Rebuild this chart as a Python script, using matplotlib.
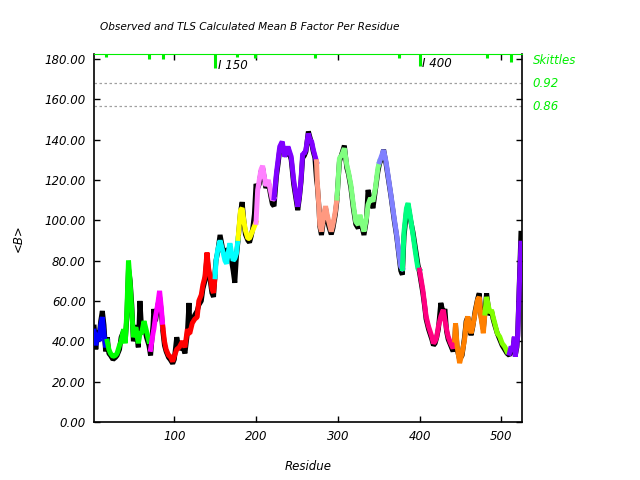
import numpy as np
from matplotlib import pyplot as plt
from matplotlib.transforms import blended_transform_factory

# residue, TLS calculated <B>, observed <B>
residue = [2, 4, 6, 8, 10, 12, 14, 16, 18, 20, 22, 25, 28, 30, 33, 35, 38, 40, 42, 44,
           46, 48, 50, 53, 56, 58, 60, 63, 66, 69, 71, 74, 75, 77, 80, 82, 84, 86, 88, 90,
           93, 95, 98, 100, 103, 106, 110, 113, 116, 118, 119, 122, 125, 128, 130, 133, 135, 137.5, 140, 142,
           144, 146, 148, 150, 151, 153, 156, 160, 162, 164, 166, 168, 170, 172, 174, 176, 178, 181, 183, 185,
           187, 190, 192, 194, 196, 198, 200, 202, 204, 206, 208, 210, 212, 215, 218, 220, 222, 225, 227, 229,
           232, 235, 237, 239, 241, 243, 246, 249, 251, 253, 255, 257, 259, 261, 264, 266, 268, 270, 272, 274,
           275, 277, 278, 280, 283, 285, 287, 289, 292, 294, 297, 299, 300, 302, 305, 308, 311, 313, 316, 319,
           322, 325, 327, 330, 332, 335, 337, 340, 343, 346, 349, 351, 354, 356, 359, 362, 365, 369, 372, 375,
           377, 379, 381, 384, 386, 389, 392, 395, 398, 400, 402, 404, 406, 408, 411, 415, 417, 419, 421, 423,
           426, 429, 431, 433, 435, 438, 441, 443, 444, 446, 449, 452, 455, 457, 459, 461, 463, 465, 468, 471,
           473, 475, 478, 480, 482, 484, 486, 488, 490, 492, 495, 498, 501, 504, 507, 510, 512, 514, 516, 517,
           519, 520, 522, 524]
tls_b = [45, 38, 44, 40, 48, 52, 44, 37, 40, 36, 34, 32.5, 33, 34, 38, 40, 46, 39, 55, 80,
         69, 55, 42, 47, 39, 44, 44, 50, 45, 40, 36, 44, 46, 52, 59, 65, 57, 47, 40, 36,
         33, 32.5, 30, 32.5, 36, 37, 40, 37, 46, 44, 44, 49, 51, 52, 60, 63, 68, 72, 84, 76,
         72, 66, 64, 72, 79.5, 85, 90, 83.5, 80, 78.5, 84, 88.6, 84, 80, 81, 83.5, 91, 105, 106, 100,
         95, 91, 91, 93, 95, 97, 99, 115, 120, 125, 127, 122, 117, 120, 114, 110, 111, 123.5, 130, 136.5,
         139, 131.5, 134, 136.5, 134, 131.5, 120, 111.7, 106.7, 112, 120, 133, 133, 135, 143, 140, 139, 135, 132, 129,
         118.3, 106, 97.7, 94.4, 102.7, 107, 102.7, 99.3, 94.4, 97.7, 104.4, 111, 117.5, 130.7, 132.4, 135.7, 127.4, 124, 117.5, 107.7,
         99.3, 97.7, 102.7, 97.7, 94.4, 101, 107.7, 111, 109.3, 116, 125.8, 129, 132.4, 134.8, 129, 120.8, 112.6, 101, 92.7, 82.8,
         77, 76, 94.4, 106, 108.5, 101, 92.7, 84, 76, 75.3, 70.4, 65.5, 59, 52.3, 47.3, 42.3, 39, 40, 42.3, 47.3,
         52.3, 55.6, 50.6, 46, 42.3, 39, 36.5, 40.7, 49, 37.4, 29.2, 34.1, 40.7, 49, 52.3, 48, 44, 47.3, 54, 60.5,
         62, 52.3, 44, 54, 62, 58, 54, 55.6, 52, 49, 44, 42.3, 39, 37.4, 34.9, 34.1, 37.4, 35.8, 42.3, 32.4,
         38, 42.3, 67, 88.6]
obs_b = [47, 36, 45, 42, 50, 55, 48, 35, 42, 34, 33, 31, 32, 33, 36, 42, 45, 40, 52, 76,
         70, 58, 40, 48, 37, 60, 46, 48, 42, 38, 33, 48, 56, 50, 58, 62, 55, 45, 38, 35,
         32, 31, 29, 31, 42, 36, 38, 34, 44, 59, 48, 50, 53, 55, 58, 60, 66, 70, 82, 74,
         70, 64, 62, 75, 80, 84, 92.7, 84, 86, 82, 85, 87, 80, 75, 69, 82, 90, 104, 109, 100,
         93, 90, 89, 92, 96, 103, 118, 116, 118, 124, 126, 121, 116, 119, 112, 108, 107, 122, 128, 135,
         137, 133, 132, 135, 133, 130, 118, 110, 105, 111, 119, 131, 132, 134, 144, 141, 138, 134, 131, 120,
         117, 106, 97, 92.7, 101, 106, 101, 97, 93, 96, 103, 110, 117, 129, 133, 137, 126, 123, 116, 106,
         98, 96, 101, 96, 92.7, 100, 115, 110, 106, 115, 124, 128, 131, 135, 128, 120, 112, 100, 92, 82,
         75, 73, 92, 104, 107, 100, 94, 86, 78, 74, 69, 64, 58, 51, 46, 41, 38, 39, 42, 46,
         59, 54, 56, 45, 41, 38, 35, 39, 48, 36, 31, 33, 42, 50, 52, 47, 43, 47, 55, 61,
         63.8, 53, 46, 55, 63.8, 57, 53, 55, 51, 48, 44, 41, 38, 36, 34, 33, 36, 35, 42, 33,
         37, 43, 68, 93.5]

# TLS groups: first residue, last residue, colour
seg_start = [2, 18, 70, 86, 150, 178, 200, 222, 274, 299, 351, 379, 400, 443, 480, 509]
seg_end = [18, 70, 86, 150, 178, 200, 222, 274, 299, 351, 379, 400, 443, 480, 509, 525]
seg_color = ['#0000ff', '#00ff00', '#ff00ff', '#ff0000', '#00ffff', '#ffff00', '#ff80ff', '#8000ff',
             '#ff9980', '#80ff80', '#8080ff', '#00ff80', '#ff0080', '#ff8000', '#80ff00', '#8000ff']

# skittles marks along the top
skittle_res = [16, 69, 86, 150, 177, 199, 272, 375, 400, 482, 512]
skittle_len = [1.5, 2.5, 2.5, 7, 1.5, 2, 2, 2, 6, 2, 4]
cutoff_y = [168, 156.6]
cutoff_lbl = ['0.92', '0.86']

plt.rcParams['font.family'] = 'DejaVu Sans'
fig = plt.figure(figsize=(6.4, 4.8), dpi=100)
ax = fig.add_axes([94 / 640, 58 / 480, 428 / 640, 368 / 480])

res = np.array(residue)
tls = np.array(tls_b)
ax.plot(res, obs_b, color='black', lw=3.6, solid_joinstyle='bevel', zorder=2)
for s, e, c in zip(seg_start, seg_end, seg_color):
    m = (res >= s) & (res <= e)
    ax.plot(res[m], tls[m], color=c, lw=3.6, solid_joinstyle='bevel', zorder=3)

for yv in cutoff_y:
    ax.axhline(yv, color='#a0a0a0', lw=0.9, ls=(0, (2, 2)), zorder=1)

ymax = 182.4
for r, l in zip(skittle_res, skittle_len):
    ax.plot([r, r], [ymax, ymax - l], color='#00ee00', lw=2.2, zorder=4, solid_capstyle='butt')

ax.set_xlim(1.8, 525.3)
ax.set_ylim(0, ymax)
ax.set_xticks([100, 200, 300, 400, 500])
ax.set_yticks(np.arange(0, 181, 20))
ax.set_yticklabels(['%.2f' % v for v in np.arange(0, 181, 20)])
ax.tick_params(direction='in', top=True, right=True, length=4, width=1, labelsize=8.5, pad=6)
for lab in ax.get_xticklabels() + ax.get_yticklabels():
    lab.set_style('italic')
ax.spines['top'].set_color('#00ee00')
for sp in ['left', 'right', 'bottom']:
    ax.spines[sp].set_linewidth(1.2)

tr = blended_transform_factory(ax.transAxes, ax.transData)
ax.text(1.025, 179, 'Skittles', color='#00ee00', style='italic', fontsize=8.5, va='center', transform=tr)
for yv, t in zip(cutoff_y, cutoff_lbl):
    ax.text(1.025, yv, t, color='#00ee00', style='italic', fontsize=8.5, va='center', transform=tr)
ax.text(153, 176.5, 'I 150', style='italic', fontsize=8.5, va='center')
ax.text(403, 177.5, 'I 400', style='italic', fontsize=8.5, va='center')

fig.text(250 / 640, 1 - 27 / 480, 'Observed and TLS Calculated Mean B Factor Per Residue',
         style='italic', fontsize=7.6, ha='center', va='center')
ax.set_xlabel('Residue', style='italic', fontsize=8.5, labelpad=12)
ax.set_ylabel('<B>', style='italic', fontsize=8.5, labelpad=14)

fig.savefig('out.png', dpi=100)
